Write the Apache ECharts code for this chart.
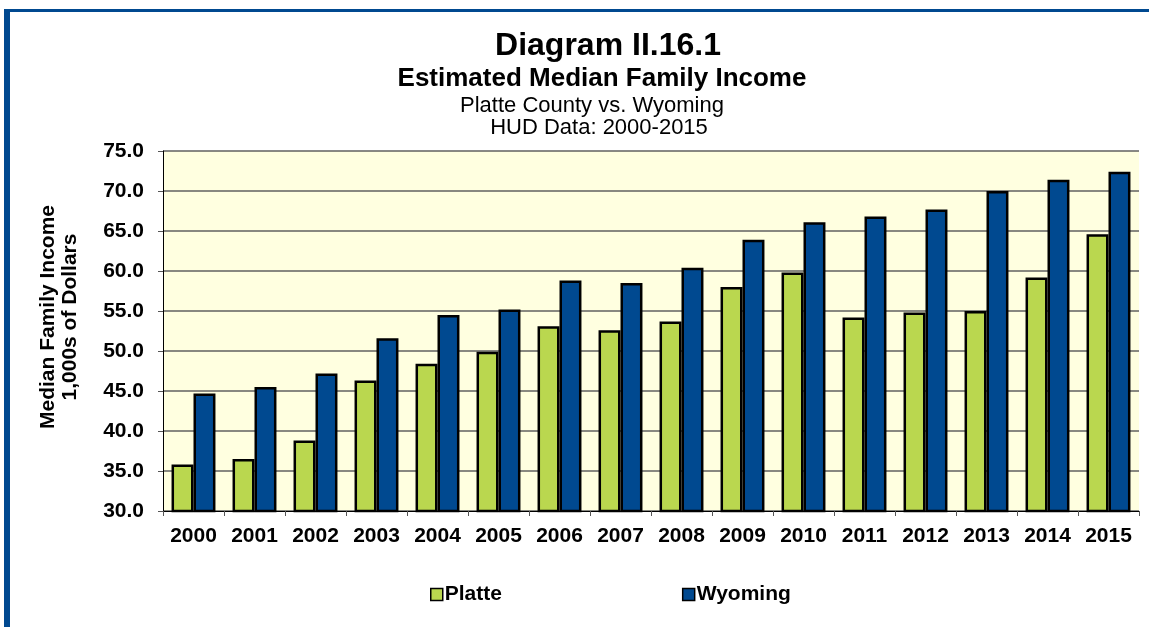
<!DOCTYPE html>
<html>
<head>
<meta charset="utf-8">
<script src="https://cdn.jsdelivr.net/npm/echarts@6/dist/echarts.min.js"></script>
<style>
  html, body { margin: 0; padding: 0; background: #fff; }
  #chart { width: 1149px; height: 627px; }
</style>
</head>
<body>
<div id="chart"></div>
<script>
// HUD median family income, thousands of dollars
var years = ['2000', '2001', '2002', '2003', '2004', '2005', '2006', '2007',
  '2008', '2009', '2010', '2011', '2012', '2013', '2014', '2015']
var platte = [35.8, 36.5, 38.8, 46.3, 48.4, 49.9, 53.1, 52.6,
  53.7, 58.0, 59.8, 54.2, 54.8, 55.0, 59.2, 64.6]
var wyoming = [44.7, 45.5, 47.2, 51.6, 54.5, 55.2, 58.8, 58.5,
  60.4, 63.9, 66.1, 66.8, 67.7, 70.0, 71.4, 72.4]

var font = 'Liberation Sans, Arial, sans-serif'
var chart = echarts.init(document.getElementById('chart'))

chart.setOption({
  animation: false,
  textStyle: { fontFamily: font, color: '#000' },
  title: [
    {
      text: 'Diagram II.16.1',
      left: 603, top: 25, textAlign: 'center',
      textStyle: { fontSize: 32, fontWeight: 'bold', color: '#000', fontFamily: font }
    },
    {
      text: 'Estimated Median Family Income',
      left: 597, top: 61, textAlign: 'center',
      textStyle: { fontSize: 26, fontWeight: 'bold', color: '#000', fontFamily: font }
    },
    {
      text: 'Platte County vs. Wyoming',
      left: 587, top: 90, textAlign: 'center',
      textStyle: { fontSize: 22, fontWeight: 'normal', color: '#000', fontFamily: font }
    },
    {
      text: 'HUD Data: 2000-2015',
      left: 594, top: 112, textAlign: 'center',
      textStyle: { fontSize: 22, fontWeight: 'normal', color: '#000', fontFamily: font }
    }
  ],
  graphic: [
    { type: 'rect', shape: { x: 4, y: 9, width: 1145, height: 3 }, style: { fill: '#004990' } },
    { type: 'rect', shape: { x: 4, y: 9, width: 6, height: 618 }, style: { fill: '#004990' } }
  ],
  legend: {
    left: 425, top: 579,
    itemGap: 180,
    itemWidth: 12, itemHeight: 12,
    icon: 'rect',
    textStyle: { fontSize: 21, fontWeight: 'bold', color: '#000', padding: [0, 0, 0, -3] },
    data: [
      { name: 'Platte', itemStyle: { borderColor: '#000', borderWidth: 1.5 } },
      { name: 'Wyoming', itemStyle: { borderColor: '#000', borderWidth: 1.5 } }
    ]
  },
  grid: {
    left: 163, right: 10, top: 151, bottom: 116,
    show: true, backgroundColor: '#FFFFE0', borderWidth: 0
  },
  xAxis: {
    type: 'category',
    data: years,
    axisLine: { lineStyle: { color: '#000', width: 1 } },
    axisTick: { show: true, length: 5, lineStyle: { color: '#555' } },
    axisLabel: { interval: 0, fontSize: 21, fontWeight: 'bold', color: '#000', margin: 15 }
  },
  yAxis: {
    type: 'value',
    min: 30, max: 75, interval: 5,
    name: 'Median Family Income\n1,000s of Dollars',
    nameLocation: 'middle',
    nameGap: 82,
    nameTextStyle: {
      fontSize: 21, fontWeight: 'bold', color: '#000', lineHeight: 22,
      padding: [0, 0, 0, 28]
    },
    axisLine: { show: true, lineStyle: { color: '#000', width: 1 } },
    axisTick: { show: true, length: 5, lineStyle: { color: '#555' } },
    axisLabel: {
      fontSize: 21, fontWeight: 'bold', color: '#000', margin: 19,
      formatter: function (v) { return v.toFixed(1) }
    },
    splitLine: { lineStyle: { color: '#606060', width: 1.5 } }
  },
  series: [
    {
      name: 'Platte',
      type: 'bar',
      data: platte,
      barGap: '0%',
      barCategoryGap: '28%',
      itemStyle: { color: '#BAD74F', borderColor: '#000', borderWidth: 2.5 }
    },
    {
      name: 'Wyoming',
      type: 'bar',
      data: wyoming,
      itemStyle: { color: '#004990', borderColor: '#000', borderWidth: 2.5 }
    }
  ]
})
</script>
</body>
</html>
